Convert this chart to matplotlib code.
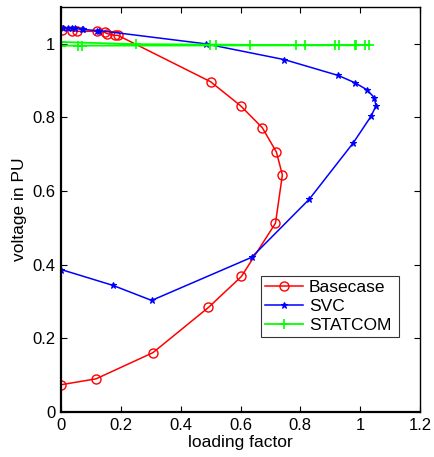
import matplotlib
matplotlib.use("Agg")
import matplotlib.pyplot as plt

plt.rcParams['font.family'] = ['Liberation Sans', 'DejaVu Sans']

# Basecase (red circles)
base_x = [0.0, 0.117, 0.307, 0.493, 0.603, 0.717, 0.74, 0.72, 0.673, 0.6, 0.5,
          0.19, 0.18, 0.153, 0.147, 0.12, 0.053, 0.037, 0.003]
base_y = [0.074, 0.09, 0.161, 0.284, 0.368, 0.513, 0.644, 0.706, 0.772, 0.832, 0.897,
          1.023, 1.023, 1.028, 1.031, 1.034, 1.034, 1.036, 1.038]

# SVC (blue stars)
svc_x = [0.0, 0.173, 0.303, 0.637, 0.83, 0.977, 1.037, 1.053, 1.047, 1.023, 0.983,
         0.927, 0.747, 0.483, 0.127, 0.12, 0.073, 0.07, 0.047, 0.037, 0.023, 0.007]
svc_y = [0.387, 0.344, 0.303, 0.42, 0.578, 0.731, 0.804, 0.832, 0.854, 0.875, 0.894,
         0.914, 0.957, 1.0, 1.036, 1.036, 1.039, 1.039, 1.042, 1.044, 1.044, 1.042]

# STATCOM (green plus)
stat_x = [0.0, 0.25, 0.497, 0.517, 0.632, 0.786, 0.817, 0.916, 0.93, 0.982, 1.017, 1.03,
          0.986, 0.069, 0.056, 0.0]
stat_y = [1.005, 0.999, 0.998, 0.998, 0.997, 0.997, 0.997, 0.997, 0.997, 0.997, 0.997, 0.997,
          0.996, 0.995, 0.995, 0.995]

xticks = [0, 0.2, 0.4, 0.6, 0.8, 1.0, 1.2]
xtick_labels = ['0', '0.2', '0.4', '0.6', '0.8', '1', '1.2']
yticks = [0, 0.2, 0.4, 0.6, 0.8, 1.0]
ytick_labels = ['0', '0.2', '0.4', '0.6', '0.8', '1']

fig = plt.figure(figsize=(4.34, 4.57), dpi=100)
ax = fig.add_axes([0.1406, 0.0985, 0.8271, 0.8862])

ax.plot(base_x, base_y, color='#ff0000', marker='o', markersize=6.5, markerfacecolor='none',
        markeredgewidth=1.0, linewidth=1.1, label='Basecase')
ax.plot(svc_x, svc_y, color='#0000ff', marker='*', markersize=4.5, markeredgewidth=0.8,
        linewidth=1.1, label='SVC')
ax.plot(stat_x, stat_y, color='#00ff00', marker='+', markersize=7, markeredgewidth=1.2,
        linewidth=1.3, label='STATCOM')

ax.set_xlim(0, 1.2)
ax.set_ylim(0, 1.1)
ax.set_xticks(xticks)
ax.set_xticklabels(xtick_labels)
ax.set_yticks(yticks)
ax.set_yticklabels(ytick_labels)
ax.tick_params(direction='in', top=True, right=True, labelsize=12, length=4, width=0.8, pad=4)
for s in ax.spines.values():
    s.set_linewidth(1.0)
ax.spines['left'].set_linewidth(1.6)
ax.spines['bottom'].set_linewidth(1.6)

ax.set_xlabel('loading factor', fontsize=12.5, labelpad=2)
ax.set_ylabel('voltage in PU', fontsize=12.5, labelpad=4)

leg = ax.legend(loc='lower left', bbox_to_anchor=(0.557, 0.185, 0.384, 0.178), mode='expand',
                fontsize=12.5, frameon=True, fancybox=False, edgecolor='black',
                borderpad=0.25, handlelength=2.2, labelspacing=0.2, handletextpad=0.3,
                borderaxespad=0)
leg.get_frame().set_linewidth(0.8)

fig.savefig('out.png', dpi=100)
